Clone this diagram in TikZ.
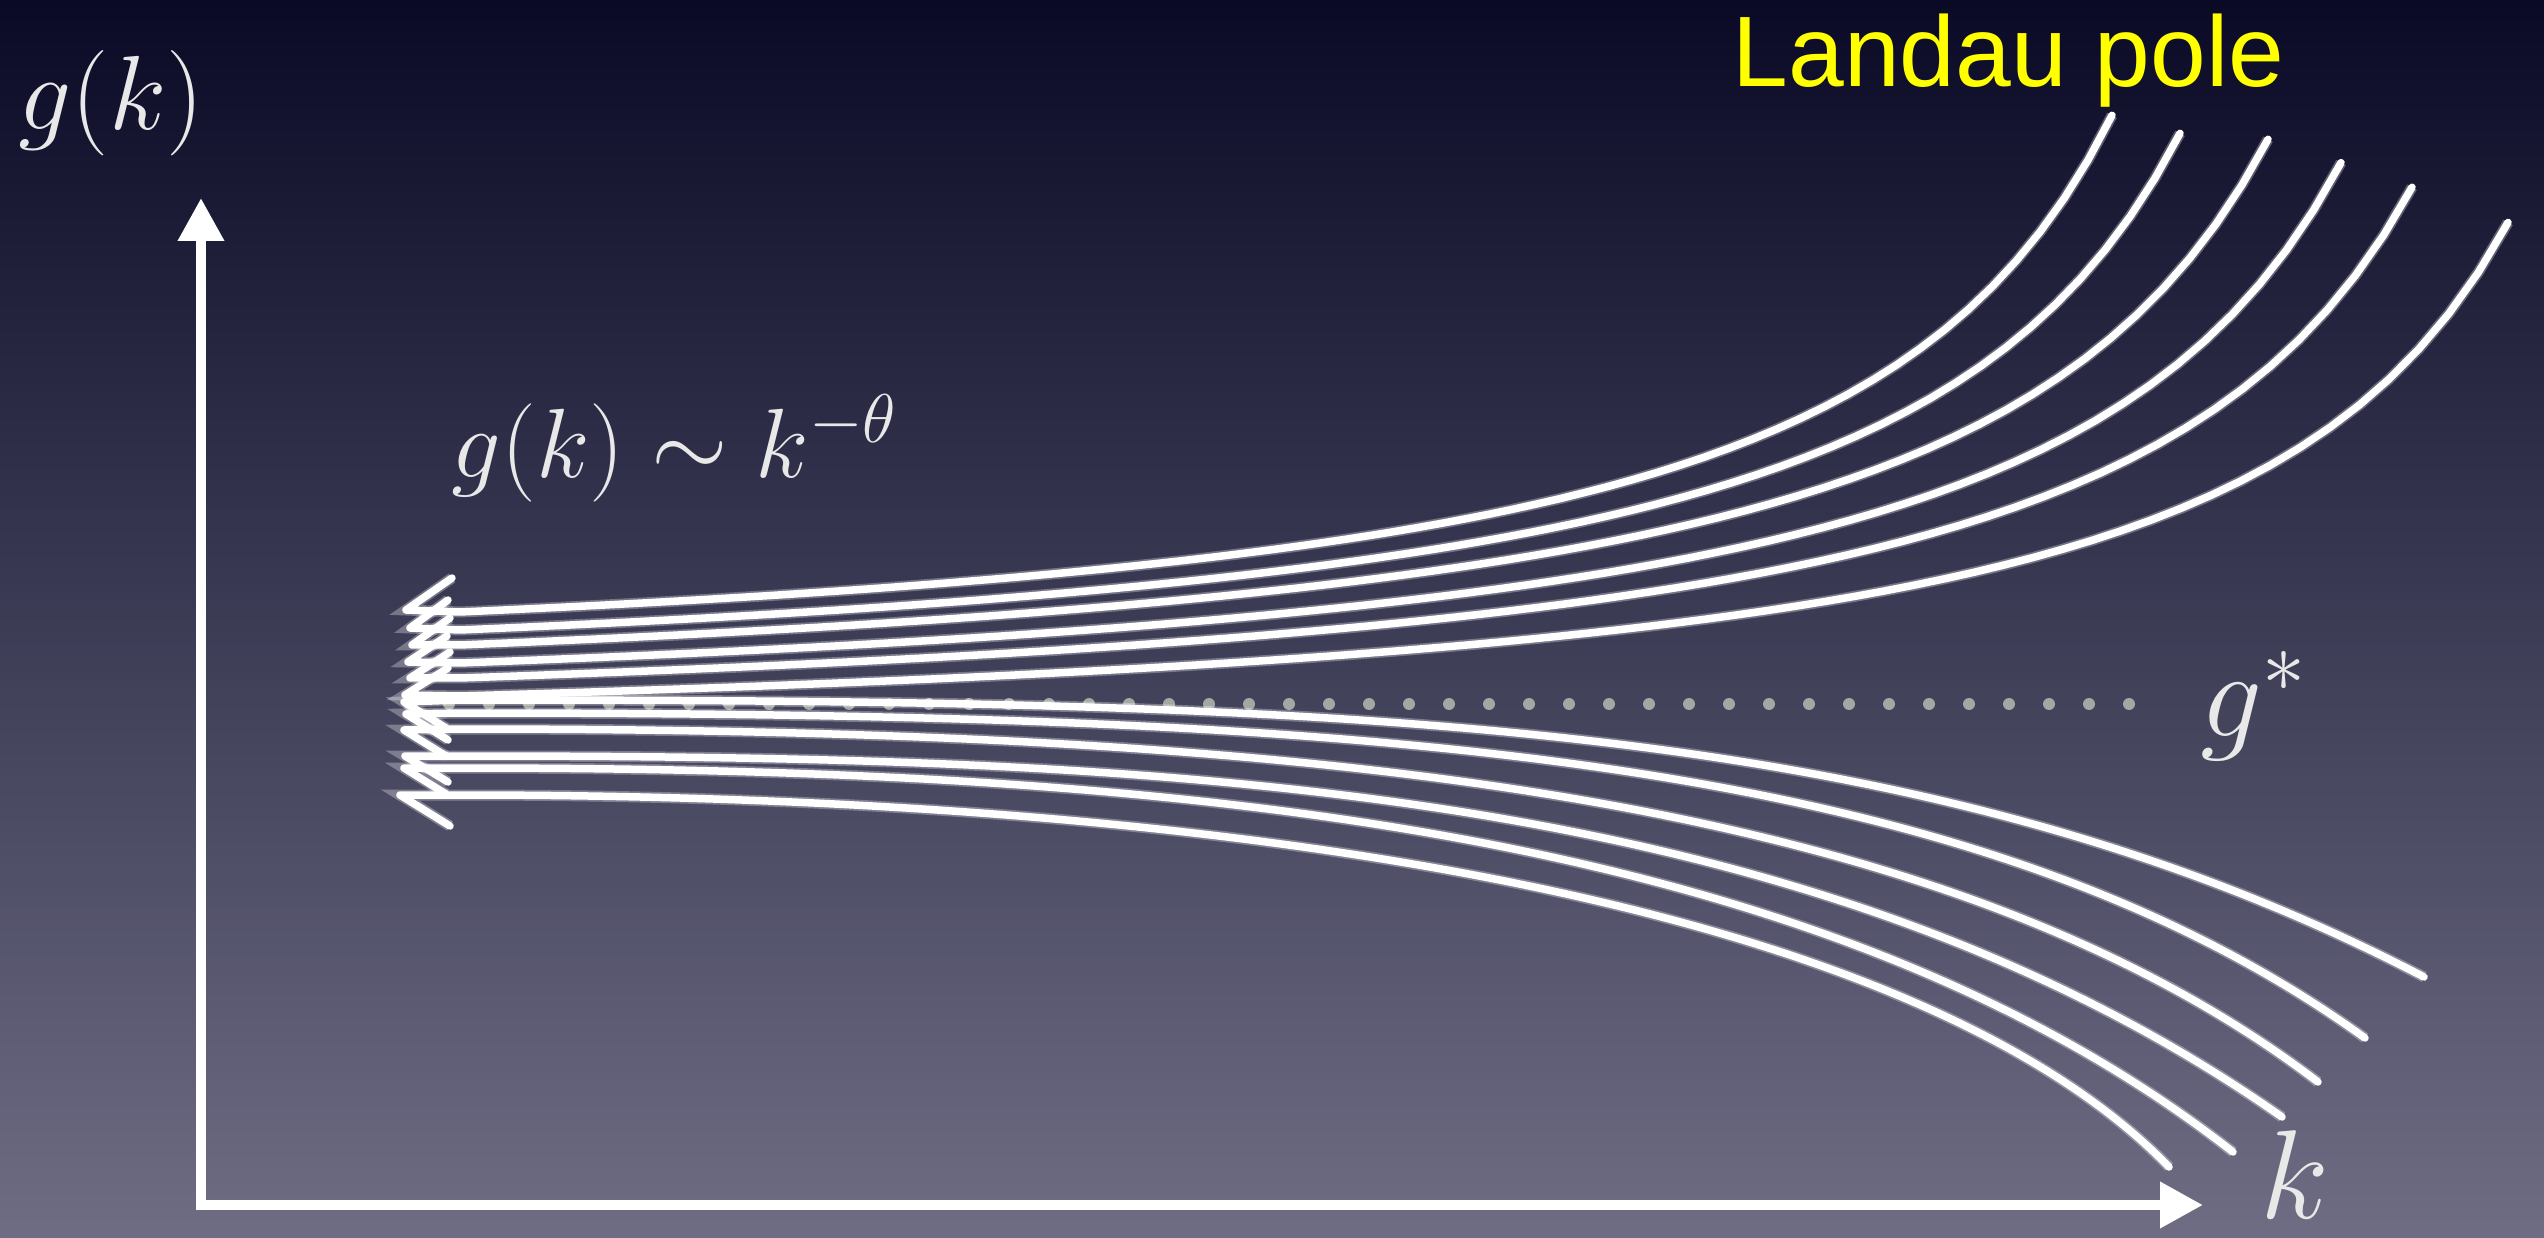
\RequirePackage{fix-cm}
\documentclass[tikz,border=0pt]{standalone}
\usepackage{fontspec}
\newfontfamily\landaufont{Liberation Sans}
\usetikzlibrary{arrows.meta}

\definecolor{bgtop}{HTML}{0A0A26}
\definecolor{bgmid}{HTML}{3C3C60}
\definecolor{bgbot}{HTML}{6E6D84}
\definecolor{labelgray}{HTML}{E8E8E8}
\definecolor{dotgray}{HTML}{A4A8A4}
\definecolor{poleyellow}{HTML}{FFFF00}

\begin{document}
\begin{tikzpicture}[x=0.1mm, y=-0.1mm,
    chalk/.style={white, line width=0.75mm, line cap=round, line join=round,
        preaction={draw=white, opacity=0.3, line width=1.1mm}},
    axis/.style={white, line width=1mm, line join=miter},
    mathlabel/.style={text=labelgray, inner sep=0pt}]
    % Slide background
    \useasboundingbox (0,0) rectangle (2544,1238);
    \shade[top color=bgtop, middle color=bgmid, bottom color=bgbot] (0,0) rectangle (2544,1238);

    % Axes
    \coordinate (origin) at (201,1205);
    \coordinate (ytop) at (201,198);
    \coordinate (xend) at (2203,1205);
    \draw[axis, {Triangle[length=4.3mm,width=4.4mm]}-{Triangle[length=4.3mm,width=4.4mm]}] (ytop) -- (origin) -- (xend);

    % Fixed point g*
    \foreach \i in {0,...,43}
        \fill[dotgray] ({409+40*\i},704) circle (0.6mm);

    % Curves running into the Landau pole
    \draw[chalk] (452,578) -- (406,610) -- plot[domain=460:2112, samples=70] (\x, {612-1680*(1/(24-\x/100)-1/(24-4.6))});
    \draw[chalk] (448,600) -- (410,628) -- plot[domain=460:2180, samples=70] (\x, {630-1750*(1/(24.8-\x/100)-1/(24.8-4.6))});
    \draw[chalk] (450,618) -- (412,645) -- plot[domain=460:2268, samples=70] (\x, {645-1850*(1/(25.8-\x/100)-1/(25.8-4.6))});
    \draw[chalk] (447,636) -- (408,662) -- plot[domain=460:2341, samples=70] (\x, {663-1800*(1/(26.5-\x/100)-1/(26.5-4.6))});
    \draw[chalk] (450,652) -- (410,678) -- plot[domain=460:2412, samples=70] (\x, {678-1750*(1/(27.2-\x/100)-1/(27.2-4.6))});
    \draw[chalk] (448,668) -- (405,695) -- plot[domain=460:2508, samples=70] (\x, {696-1580*(1/(28-\x/100)-1/(28-4.6))});

    % Curves falling below g*
    \draw[chalk] (446,728) -- (404,702) -- (460,700) .. controls (1360,700) and (1924,717) .. (2424,977);
    \draw[chalk] (448,740) -- (406,714) -- (460,713) .. controls (1360,713) and (1965,750) .. (2365,1038);
    \draw[chalk] (446,756) -- (404,730) -- (460,729) .. controls (1310,729) and (1938,793) .. (2318,1082);
    \draw[chalk] (448,782) -- (405,756) -- (460,756) .. controls (1160,756) and (1802,781) .. (2282,1117);
    \draw[chalk] (446,794) -- (404,768) -- (460,768) .. controls (1160,768) and (1813,824) .. (2233,1152);
    \draw[chalk] (450,826) -- (400,795) -- (460,795) .. controls (1260,795) and (1919,909) .. (2169,1167);

    % Labels
    \node[mathlabel, anchor=base west, font=\fontsize{30}{36}\selectfont] (gk) at (18,130) {$g(k)$};
    \node[mathlabel, anchor=base west, font=\fontsize{28}{34}\selectfont] (scaling) at (451,478) {$g(k)\sim k^{-\theta}$};
    \node[mathlabel, anchor=base west, font=\fontsize{35}{42}\selectfont] (gstar) at (2200,736) {$g^*$};
    \node[mathlabel, anchor=north west, font=\fontsize{36}{43}\selectfont] (klabel) at (2260,1130) {$k$};
    \node[text=poleyellow, anchor=base west, inner sep=0pt, font=\landaufont\fontsize{28.5}{34}\selectfont] (landau) at (1732,87) {Landau pole};
\end{tikzpicture}
\end{document}
